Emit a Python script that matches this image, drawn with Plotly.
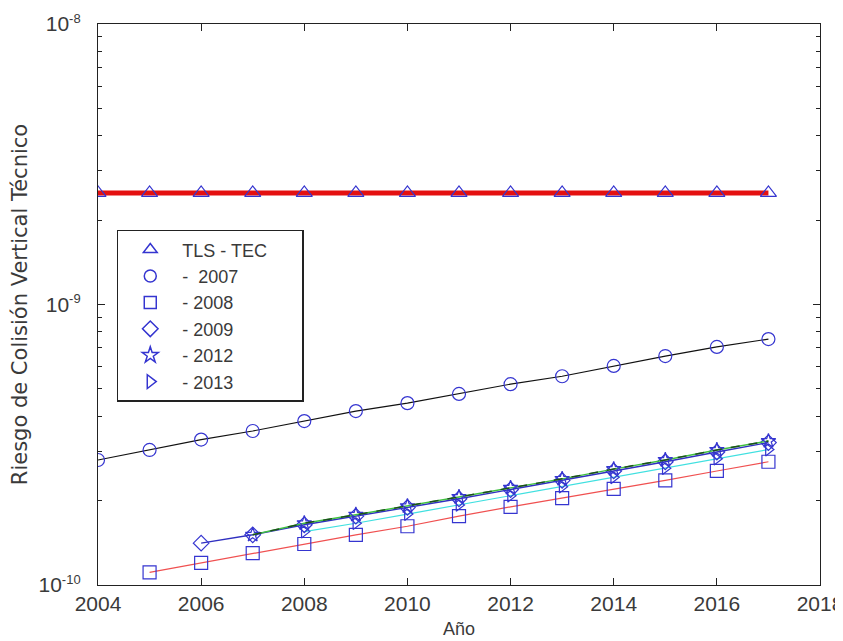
import plotly.graph_objects as go

# ---- data ----
years_tls = list(range(2004, 2018))
tls_tec = [2.5e-9] * 14

years_2007 = list(range(2004, 2018))
risk_2007 = [2.79e-10, 3.03e-10, 3.30e-10, 3.54e-10, 3.84e-10, 4.17e-10, 4.45e-10,
             4.80e-10, 5.20e-10, 5.55e-10, 6.04e-10, 6.55e-10, 7.06e-10, 7.53e-10]

years_2008 = list(range(2005, 2018))
risk_2008 = [1.11e-10, 1.20e-10, 1.30e-10, 1.40e-10, 1.51e-10, 1.62e-10, 1.76e-10,
             1.90e-10, 2.04e-10, 2.20e-10, 2.36e-10, 2.55e-10, 2.75e-10]

years_2009 = list(range(2006, 2018))
risk_2009 = [1.41e-10, 1.51e-10, 1.64e-10, 1.76e-10, 1.89e-10, 2.03e-10, 2.19e-10,
             2.36e-10, 2.55e-10, 2.75e-10, 2.98e-10, 3.22e-10]

years_2012 = list(range(2007, 2018))
risk_2012 = [1.51e-10, 1.66e-10, 1.78e-10, 1.91e-10, 2.06e-10, 2.22e-10, 2.39e-10,
             2.59e-10, 2.79e-10, 3.03e-10, 3.26e-10]

years_2013 = list(range(2008, 2018))
risk_2013 = [1.55e-10, 1.66e-10, 1.79e-10, 1.93e-10, 2.08e-10, 2.24e-10, 2.42e-10,
             2.61e-10, 2.82e-10, 3.04e-10]

legend_labels = ["TLS - TEC", "-  2007", "- 2008", "- 2009", "- 2012", "- 2013"]
x_ticks = [2004, 2006, 2008, 2010, 2012, 2014, 2016, 2018]
y_ticks = [1e-10, 1e-9, 1e-8]
y_tick_exps = ["-10", "-9", "-8"]
y_minor = [m * d for d in (1e-10, 1e-9) for m in range(2, 10)]

MK = "#3535d0"

series = [
    (years_tls, tls_tec, "triangle-up-open", "#e41010", 5, "solid", 14),
    (years_2007, risk_2007, "circle-open", "#111111", 1.2, "solid", 13),
    (years_2008, risk_2008, "square-open", "#f05050", 1.2, "solid", 13),
    (years_2013, risk_2013, "triangle-right-open", "#40e0e0", 1.2, "solid", 11),
    (years_2009, risk_2009, "diamond-open", "#3030c0", 1.4, "solid", 12),
    (years_2012, risk_2012, "star-open", "#40c040", 1.4, "solid", 11),
]

fig = go.Figure()
for x, y, sym, col, w, dash, sz in series:
    fig.add_trace(go.Scatter(x=x, y=y, mode="lines+markers", showlegend=False,
                             line=dict(color=col, width=w, dash=dash),
                             marker=dict(symbol=sym, size=sz, color=MK,
                                         line=dict(color=MK, width=1.2))))
# dark dashed overlay on the 2012 series
fig.add_trace(go.Scatter(x=years_2012, y=risk_2012, mode="lines", showlegend=False,
                         line=dict(color="#1d4d1d", width=1.5, dash="dash")))

# legend entries (markers only)
leg_syms = ["triangle-up-open", "circle-open", "square-open", "diamond-open",
            "star-open", "triangle-right-open"]
for i, (lab, sym) in enumerate(zip(legend_labels, leg_syms)):
    if i == 0:
        lab = lab + "\u00a0" * 6
    fig.add_trace(go.Scatter(x=[None], y=[None], mode="markers", name=lab,
                             marker=dict(symbol=sym, size=12, color=MK,
                                         line=dict(color=MK, width=1.5))))

y_ticktext = ["10<sup><span style='font-size:13px'>%s</span></sup>" % e for e in y_tick_exps]

fig.update_layout(
    width=843, height=641,
    margin=dict(l=90, r=31, t=16, b=64),
    paper_bgcolor="white", plot_bgcolor="white",
    font=dict(family="Liberation Sans, Arial, sans-serif", size=21, color="#3a3a3a"),
    legend=dict(x=0.026, y=0.633, xanchor="left", yanchor="top",
                bordercolor="#222222", borderwidth=1.5, bgcolor="white",
                font=dict(size=18, color="#3a3a3a"), itemwidth=54,
                tracegroupgap=0),
    xaxis=dict(range=[2004, 2018], tickvals=x_ticks, ticks="inside", ticklen=7,
               tickcolor="#222222", ticklabelstandoff=0, automargin=False,
               ticklabeloverflow="allow",
               showline=True, linecolor="#222222", linewidth=1.3, mirror="ticks",
               showgrid=False, zeroline=False,
               title=dict(text="Año", standoff=8, font=dict(size=18))),
    yaxis=dict(type="log", range=[-10, -8], tickmode="array", tickvals=y_ticks,
               ticktext=y_ticktext,
               ticks="inside", ticklen=7, tickcolor="#222222", ticklabelstandoff=12,
               automargin=False, ticklabeloverflow="allow",
               showline=True, linecolor="#222222",
               linewidth=1.3, mirror="ticks", showgrid=False, zeroline=False,
               minor=dict(tickmode="array", tickvals=y_minor, ticks="inside",
                          ticklen=4, tickcolor="#222222", showgrid=False),
               title=dict(text="Riesgo de Colisión Vertical Técnico", standoff=14,
                          font=dict(size=21, family="DejaVu Sans"))),
)

fig.write_html("out.html")
